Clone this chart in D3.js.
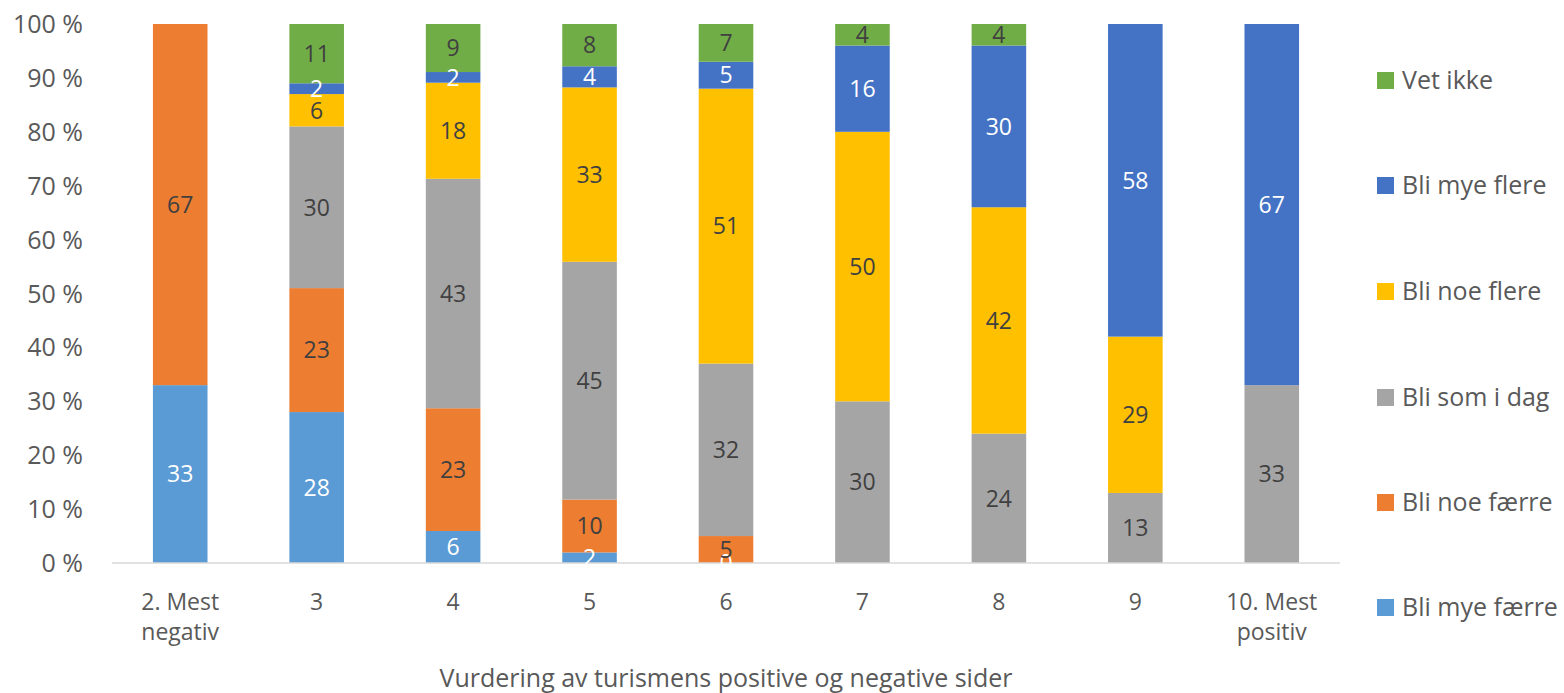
<!DOCTYPE html>
<html>
<head>
<meta charset="utf-8">
<script src="https://cdn.jsdelivr.net/npm/d3@7"></script>
<style>
  body { margin: 0; background: #fff; }
  svg text { font-family: "Open Sans", sans-serif; }
</style>
</head>
<body>
<svg id="chart" width="1564" height="693"></svg>
<script>
// categories on the x axis (lines split for wrapping)
const categories = ["2. Mest negativ", "3", "4", "5", "6", "7", "8", "9", "10. Mest positiv"];
const categoryLines = [["2. Mest", "negativ"], ["3"], ["4"], ["5"], ["6"], ["7"], ["8"], ["9"], ["10. Mest", "positiv"]];

// series, bottom to top
const seriesNames = ["Bli mye færre", "Bli noe færre", "Bli som i dag", "Bli noe flere", "Bli mye flere", "Vet ikke"];
const seriesColors = ["#5B9BD5", "#ED7D31", "#A5A5A5", "#FFC000", "#4472C4", "#70AD47"];
const labelColors = ["#ffffff", "#404040", "#404040", "#404040", "#ffffff", "#404040"];

// values per series (null = no label / empty)
const mye_faerre = [33, 28, 6, 2, 0, null, null, null, null];
const noe_faerre = [67, 23, 23, 10, 5, null, null, null, null];
const som_i_dag  = [null, 30, 43, 45, 32, 30, 24, 13, 33];
const noe_flere  = [null, 6, 18, 33, 51, 50, 42, 29, null];
const mye_flere  = [null, 2, 2, 4, 5, 16, 30, 58, 67];
const vet_ikke   = [null, 11, 9, 8, 7, 4, 4, null, null];

const yTicks = [0, 0.1, 0.2, 0.3, 0.4, 0.5, 0.6, 0.7, 0.8, 0.9, 1];

const seriesValues = [mye_faerre, noe_faerre, som_i_dag, noe_flere, mye_flere, vet_ikke];

const MARGIN = { left: 112, right: 224, top: 24, bottom: 130 };
const width = 1564 - MARGIN.left - MARGIN.right;
const height = 693 - MARGIN.top - MARGIN.bottom;

const table = categories.map((c, i) => {
  const row = { cat: c };
  seriesNames.forEach((s, j) => { row[s] = seriesValues[j][i] || 0; });
  return row;
});

const stack = d3.stack().keys(seriesNames).offset(d3.stackOffsetExpand);
const stacked = stack(table);

const xScale = d3.scaleBand().domain(categories).range([0, width]).paddingInner(0.6).paddingOuter(0.3);
const yScale = d3.scaleLinear().domain([0, 1]).range([height, 0]);

const svg = d3.select("#chart");
const g = svg.append("g").attr("transform", `translate(${MARGIN.left},${MARGIN.top})`);

// bars
const layers = g.selectAll(".layer")
  .data(stacked)
  .enter()
  .append("g")
  .attr("fill", (d, i) => seriesColors[i]);

layers.selectAll("rect")
  .data(d => d)
  .enter()
  .append("rect")
  .attr("x", d => xScale(d.data.cat))
  .attr("y", d => yScale(d[1]))
  .attr("width", xScale.bandwidth())
  .attr("height", d => yScale(d[0]) - yScale(d[1]));

// x axis line
g.append("line")
  .attr("x1", 0).attr("x2", width)
  .attr("y1", yScale(0)).attr("y2", yScale(0))
  .attr("stroke", "#D9D9D9").attr("stroke-width", 1.5);

// data labels
stacked.forEach((layer, j) => {
  layer.forEach((d, i) => {
    const v = seriesValues[j][i];
    if (v === null) return;
    g.append("text")
      .attr("x", xScale(d.data.cat) + xScale.bandwidth() / 2)
      .attr("y", (yScale(d[0]) + yScale(d[1])) / 2)
      .attr("dy", "0.36em")
      .attr("text-anchor", "middle")
      .attr("fill", labelColors[j])
      .style("font-size", "23px")
      .text(v);
  });
});

// y axis labels
g.selectAll(".ytick")
  .data(yTicks)
  .enter()
  .append("text")
  .attr("x", -29)
  .attr("y", d => yScale(d))
  .attr("dy", "0.36em")
  .attr("text-anchor", "end")
  .attr("fill", "#595959")
  .style("font-size", "25px")
  .text(d => `${Math.round(d * 100)} %`);

// x axis labels
categories.forEach((c, i) => {
  const t = g.append("text")
    .attr("x", xScale(c) + xScale.bandwidth() / 2)
    .attr("y", height + 47)
    .attr("text-anchor", "middle")
    .attr("fill", "#595959")
    .style("font-size", "23px");
  categoryLines[i].forEach((line, k) => {
    t.append("tspan")
      .attr("x", xScale(c) + xScale.bandwidth() / 2)
      .attr("dy", k === 0 ? 0 : 30)
      .text(line);
  });
});

// x axis title
g.append("text")
  .attr("x", width / 2)
  .attr("y", height + 124)
  .attr("text-anchor", "middle")
  .attr("fill", "#595959")
  .style("font-size", "25px")
  .text("Vurdering av turismens positive og negative sider");

// legend, top item is last series
const legendY = [80, 185, 291, 397, 502, 607];
const legend = svg.append("g");
seriesNames.slice().reverse().forEach((s, k) => {
  const idx = seriesNames.length - 1 - k;
  legend.append("rect")
    .attr("x", 1377).attr("y", legendY[k] - 8)
    .attr("width", 17).attr("height", 17)
    .attr("fill", seriesColors[idx]);
  legend.append("text")
    .attr("x", 1402).attr("y", legendY[k])
    .attr("dy", "0.36em")
    .attr("fill", "#595959")
    .style("font-size", "25px")
    .text(s);
});
</script>
</body>
</html>
